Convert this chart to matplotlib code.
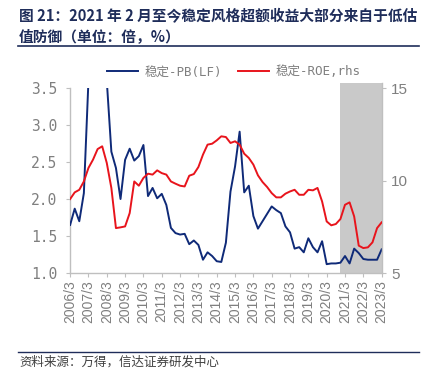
import matplotlib.pyplot as plt
import numpy as np

plt.rcParams['font.family'] = ['Noto Sans CJK SC', 'DejaVu Sans']

# quarterly, 2006/3 .. 2023/3
years = list(range(2006, 2024))
pb = [1.65, 1.87, 1.70, 2.08,
      3.60, 5.00, 6.00, 5.20,
      3.60, 2.64, 2.42, 2.00,
      2.53, 2.68, 2.52, 2.58,
      2.73, 2.04, 2.15, 2.01,
      2.07, 1.92, 1.61, 1.54,
      1.52, 1.53, 1.39, 1.44,
      1.38, 1.18, 1.28, 1.23,
      1.16, 1.15, 1.41, 2.10,
      2.44, 2.91, 2.09, 2.18,
      1.77, 1.60, 1.70, 1.80,
      1.90, 1.85, 1.81, 1.63,
      1.55, 1.33, 1.35, 1.28,
      1.47, 1.35, 1.28, 1.43,
      1.12, 1.13, 1.13, 1.14,
      1.23, 1.13, 1.33, 1.27,
      1.19, 1.18, 1.18, 1.18,
      1.32]
roe = [9.00, 9.36, 9.50, 9.95,
       10.68, 11.13, 11.70, 11.85,
       10.95, 9.60, 7.43, 7.47,
       7.52, 8.24, 9.95, 9.72,
       10.14, 10.37, 10.32, 10.55,
       10.40, 10.32, 9.95, 9.83,
       9.72, 9.68, 10.26, 10.35,
       10.73, 11.40, 11.94, 11.99,
       12.17, 12.39, 12.35, 12.03,
       12.12, 11.94, 11.45, 11.22,
       10.86, 10.28, 9.92, 9.65,
       9.32, 9.09, 9.09, 9.29,
       9.41, 9.50, 9.23, 9.23,
       9.50, 9.47, 9.60, 8.87,
       7.79, 7.58, 7.65, 7.92,
       8.69, 8.82, 8.06, 6.48,
       6.35, 6.39, 6.66, 7.43,
       7.74]
tick_labels = [f'{y}/3' for y in years]
shade_from = 58.8  # quarter index where the shaded period begins

navy = '#0f2a78'
red = '#e8141c'
gray_txt = '#7f7f7f'
axis_gray = '#bfbfbf'
title_c = '#1f2d5a'

fig = plt.figure(figsize=(4.25, 3.69), dpi=100)
ax = fig.add_axes([0.165, 0.26, 0.733, 0.5015])
ax2 = ax.twinx()

x = np.arange(len(pb))
ax.axvspan(shade_from, len(pb) - 1, ymax=1.027, color='#c9c9c9', lw=0, zorder=0, clip_on=False)
ax.plot(x, pb, color=navy, lw=1.4, label='稳定-PB(LF)', zorder=3)
ax2.plot(x, roe, color=red, lw=1.4, label='稳定-ROE,rhs', zorder=3)

ax.set_xlim(0, len(pb) - 1)
ax.set_ylim(1.0, 3.5)
ax2.set_ylim(5, 15)
ax.set_yticks(np.arange(1.0, 3.51, 0.5))
ax.set_yticklabels([f'{v:.1f}' for v in np.arange(1.0, 3.51, 0.5)],
                   family=['DejaVu Sans Mono'], fontsize=10.5)
ax2.set_yticks([5, 10, 15])
ax2.set_yticklabels(['5', '10', '15'], family=['Liberation Sans'], fontsize=11)
ax.set_xticks(x[::4])
ax.set_xticklabels(tick_labels, rotation=90, family=['Liberation Sans'], fontsize=10)

for a in (ax, ax2):
    for s in a.spines.values():
        s.set_visible(False)
ax.spines['left'].set_visible(True)
ax.spines['bottom'].set_visible(True)
ax2.spines['right'].set_visible(True)
ax2.spines['right'].set_bounds(5, 15.27)
for s in (ax.spines['left'], ax.spines['bottom'], ax2.spines['right']):
    s.set_color(axis_gray)
    s.set_linewidth(1.0)

ax.tick_params(axis='both', colors=axis_gray, labelcolor=gray_txt, length=3, width=0.8)
ax.tick_params(axis='y', pad=6)
ax.tick_params(axis='x', pad=2)
ax2.tick_params(axis='y', colors=axis_gray, labelcolor=gray_txt, length=3, pad=4)

h1, l1 = ax.get_legend_handles_labels()
h2, l2 = ax2.get_legend_handles_labels()
fig.legend(h1 + h2, l1 + l2, loc='center', bbox_to_anchor=(0.55, 0.805), ncol=2,
           frameon=False, prop={'family': ['DejaVu Sans Mono', 'Noto Sans CJK SC'], 'size': 9},
           labelcolor=gray_txt, handlelength=2.5, columnspacing=1.3, handletextpad=0.5)

fig.text(0.045, 0.955, '图 21：2021 年 2 月至今稳定风格超额收益大部分来自于低估',
         fontsize=10.6, fontweight='bold', color=title_c, va='center')
fig.text(0.045, 0.902, '值防御（单位：倍，%）',
         fontsize=10.6, fontweight='bold', color=title_c, va='center')
fig.add_artist(plt.Line2D([0.042, 0.985], [0.876, 0.876], color=title_c, lw=1.2))
fig.add_artist(plt.Line2D([0.042, 0.985], [0.046, 0.046], color=title_c, lw=1.0))
fig.text(0.045, 0.018, '资料来源：万得，信达证券研发中心', fontsize=9, style='italic',
         color='#404040', va='center')

fig.savefig('out.png', dpi=100)
